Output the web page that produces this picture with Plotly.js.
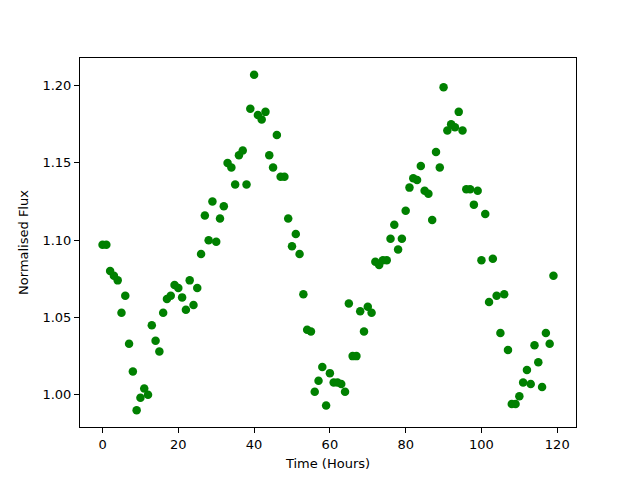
<!DOCTYPE html>
<html>
<head>
<meta charset="utf-8">
<script src="https://cdn.plot.ly/plotly-3.0.1.min.js"></script>
<style>html,body{margin:0;padding:0;background:#fff;}#chart{width:640px;height:480px;}</style>
</head>
<body>
<div id="chart"></div>
<script>
const timeHours = [];
for (let i = 0; i < 120; i++) timeHours.push(i);
const flux = [
1.097,1.097,1.080,1.077,1.074,1.053,1.064,1.033,1.015,0.990,
0.998,1.004,1.000,1.045,1.035,1.028,1.053,1.062,1.064,1.071,
1.069,1.063,1.055,1.074,1.058,1.069,1.091,1.116,1.100,1.125,
1.099,1.114,1.122,1.150,1.147,1.136,1.155,1.158,1.136,1.185,
1.207,1.181,1.178,1.183,1.155,1.147,1.168,1.141,1.141,1.114,
1.096,1.104,1.091,1.065,1.042,1.041,1.002,1.009,1.018,0.993,
1.014,1.008,1.008,1.007,1.002,1.059,1.025,1.025,1.054,1.041,
1.057,1.053,1.086,1.084,1.087,1.087,1.101,1.110,1.094,1.101,
1.119,1.134,1.140,1.139,1.148,1.132,1.130,1.113,1.157,1.147,
1.199,1.171,1.175,1.173,1.183,1.171,1.133,1.133,1.123,1.132,
1.087,1.117,1.060,1.088,1.064,1.040,1.065,1.029,0.994,0.994,
0.999,1.008,1.016,1.007,1.032,1.021,1.005,1.040,1.033,1.077
];
const xTicks = [0, 20, 40, 60, 80, 100, 120];
const yTicks = [1.00, 1.05, 1.10, 1.15, 1.20];

function padRange(arr) {
  const mn = Math.min(...arr), mx = Math.max(...arr);
  const m = (mx - mn) * 0.05;
  return [mn - m, mx + m];
}

const font = {family: 'DejaVu Sans', size: 13, color: '#000'};
const axisCommon = {
  showgrid: false, zeroline: false, showline: true, linecolor: '#000', linewidth: 1,
  mirror: true, ticks: 'outside', ticklen: 5, tickwidth: 1, tickcolor: '#000',
  tickfont: font
};

Plotly.newPlot('chart', [{
  x: timeHours, y: flux, type: 'scatter', mode: 'markers',
  marker: {color: '#008000', size: 8.5},
  hoverinfo: 'skip'
}], {
  width: 640, height: 480,
  margin: {l: 80, r: 64, t: 58, b: 53},
  paper_bgcolor: '#fff', plot_bgcolor: '#fff',
  showlegend: false,
  xaxis: Object.assign({}, axisCommon, {
    range: padRange(timeHours), tickvals: xTicks, ticktext: xTicks.map(String),
    title: {text: 'Time (Hours)', font: font, standoff: 8}
  }),
  yaxis: Object.assign({}, axisCommon, {
    range: padRange(flux), tickvals: yTicks, ticktext: yTicks.map(v => v.toFixed(2)),
    title: {text: 'Normalised Flux', font: font, standoff: 10}
  })
}, {displayModeBar: false, staticPlot: true});
</script>
</body>
</html>
